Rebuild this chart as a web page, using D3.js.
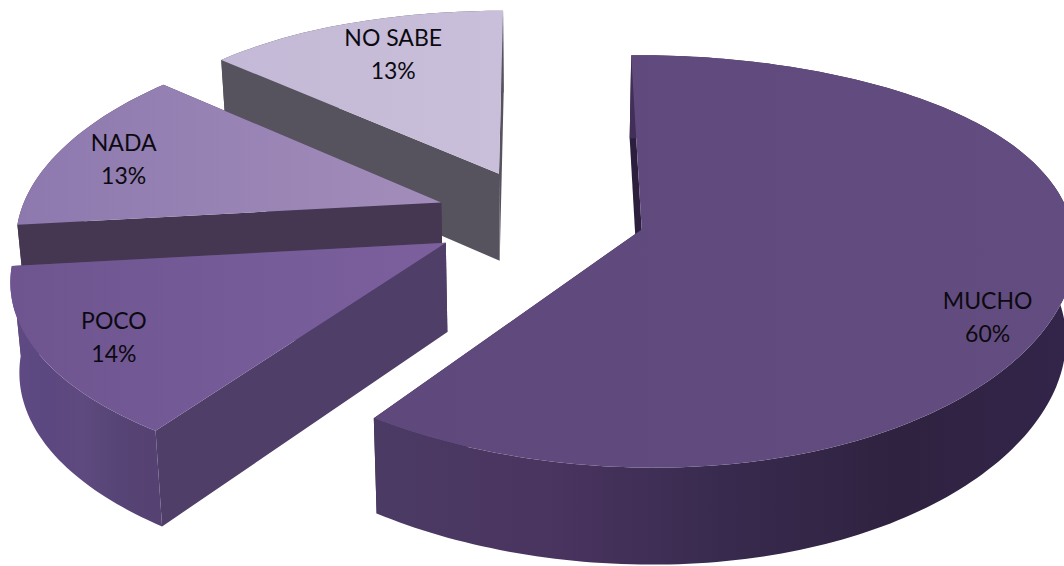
<!DOCTYPE html>
<html>
<head>
<meta charset="utf-8">
<script src="https://cdn.jsdelivr.net/npm/d3@7/dist/d3.min.js"></script>
<style>
  html, body { margin: 0; padding: 0; background: #fff; }
  svg { display: block; }
  text { font-family: Lato, "Open Sans", sans-serif; font-size: 23px; fill: #0c0a10; }
</style>
</head>
<body>
<svg id="chart" width="1064" height="566"></svg>
<script>
// Survey answers
const categories = ["MUCHO", "POCO", "NADA", "NO SABE"];
const shares = [60, 14, 13, 13];

// Face colours per slice
const topStops = [["#5f497c", "#634d80"], ["#6e5590", "#7b609d"], ["#8d79ae", "#a28dba"], ["#c4b9d6", "#c9bfda"]];
const radialWall = ["#2c1f3e", "#4f3e68", "#453751", "#57535e"];
const outerStops = [
  ["#4b3b64", "#4a3460", "#382a4e", "#2f2240", "#33254a"],
  ["#5f4a84", "#5c4880", "#5e4a7e", "#574476", "#554272"],
  ["#453751", "#453751", "#453751", "#453751", "#453751"],
  ["#57535e", "#57535e", "#57535e", "#57535e", "#57535e"]
];

// Label placement: angle on the slice and distance from its apex
const labelAngle = [120, 240.5, 289, 338.4];
const labelReach = [0.87, 0.83, 0.83, 0.77];

// Camera model: ground plane seen in perspective with a slight roll
const width = 1064, height = 566;
const vanishX = 540, vanishY = -1152, horizonDrop = 1368.5, focal = 2950;
const radius = 425, explode = 106;
const bottomShrink = 0.983, lateralPower = 0.8, roll = 0.024;

const svg = d3.select("#chart");
const defs = svg.append("defs");

const toRad = d3.scaleLinear().domain([0, 360]).range([0, 2 * Math.PI]);
const pie = d3.pie().sort(null).startAngle(0).endAngle(2 * Math.PI);
const arcs = pie(shares);

function ground(a, reach, apex) {
  return [apex[0] + reach * Math.sin(a), apex[1] - reach * Math.cos(a)];
}
function project(w, shrink, drop) {
  const s = 1 / (1 - w[1] / focal);
  const x = vanishX + w[0] * Math.pow(s, lateralPower) * shrink;
  // The roll fades towards the far and near ends of the ground plane
  const depth = w[1] / radius;
  const fade = Math.max(0.05, 1 - 0.8 * depth * depth);
  const y = vanishY + horizonDrop * s + drop(s) - roll * fade * (x - vanishX);
  return [x, y];
}
const topPoint = w => project(w, 1, () => 0);
const bottomPoint = w => project(w, bottomShrink, s => 42.5 + 46 * s);

const path = d3.line();
function gradient(id, stops, x1, x2) {
  const g = defs.append("linearGradient").attr("id", id)
    .attr("gradientUnits", "userSpaceOnUse")
    .attr("x1", x1).attr("x2", x2).attr("y1", 0).attr("y2", 0);
  stops.forEach((c, i) => g.append("stop").attr("offset", i / (stops.length - 1)).attr("stop-color", c));
  return `url(#${id})`;
}

const slices = arcs.map((d, i) => {
  const mid = (d.startAngle + d.endAngle) / 2;
  const apex = [explode * Math.sin(mid), -explode * Math.cos(mid)];
  const n = Math.max(8, Math.round((d.endAngle - d.startAngle) / 0.02));
  const sweep = d3.range(n + 1).map(k => d.startAngle + (d.endAngle - d.startAngle) * k / n);
  return { i, d, apex, rim: sweep.map(a => ground(a, radius, apex)) };
});

// Far slices first so the near ones cover them
[3, 2, 1, 0].forEach(i => {
  const { apex, rim } = slices[i];
  const g = svg.append("g").attr("class", "slice");
  const first = rim[0], last = rim[rim.length - 1];

  const wall = (a, b) => [topPoint(a), topPoint(b), bottomPoint(b), bottomPoint(a)];

  g.append("path").attr("d", path(wall(apex, last)) + "Z").attr("fill", radialWall[i]);
  g.append("path").attr("d", path(wall(apex, first)) + "Z").attr("fill", radialWall[i]);

  const xs = rim.map(w => topPoint(w)[0]);
  const outer = rim.map(topPoint).concat(rim.slice().reverse().map(bottomPoint));
  g.append("path").attr("d", path(outer) + "Z")
    .attr("fill", gradient("outer" + i, outerStops[i], d3.min(xs), d3.max(xs)));

  const face = [topPoint(apex)].concat(rim.map(topPoint));
  const fx = face.map(p => p[0]);
  g.append("path").attr("d", path(face) + "Z")
    .attr("fill", gradient("top" + i, topStops[i], d3.min(fx), d3.max(fx)));
});

// Two-line value labels
slices.forEach(({ i, apex }) => {
  const w = ground(toRad(labelAngle[i]), radius * labelReach[i], apex);
  const p = topPoint(w);
  const label = svg.append("text").attr("text-anchor", "middle")
    .attr("transform", `translate(${p[0]},${p[1]})`);
  label.append("tspan").attr("x", 0).attr("y", -8).text(categories[i]);
  label.append("tspan").attr("x", 0).attr("y", 25).text(d3.format(".0f")(shares[i]) + "%");
});
</script>
</body>
</html>
